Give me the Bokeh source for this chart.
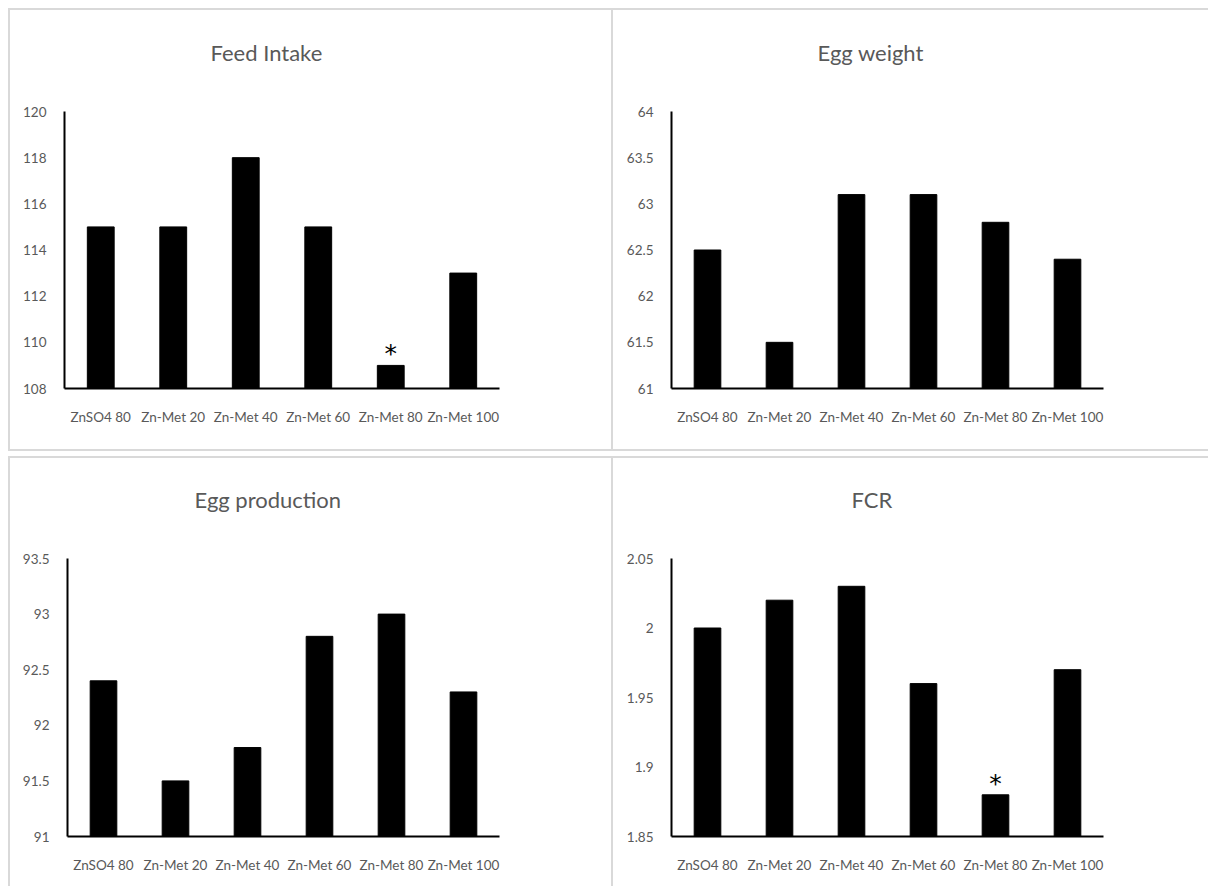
from bokeh.plotting import figure
from bokeh.layouts import column, row
from bokeh.models import Range1d, FixedTicker, CustomJSTickFormatter, ColumnDataSource, Title
from bokeh.embed import file_html
from bokeh.resources import INLINE
from bokeh.core.properties import value

categories = ["ZnSO4 80", "Zn-Met 20", "Zn-Met 40", "Zn-Met 60", "Zn-Met 80", "Zn-Met 100"]

feed_intake = [115, 115, 118, 115, 109, 113]
egg_weight = [62.5, 61.5, 63.1, 63.1, 62.8, 62.4]
egg_production = [92.4, 91.5, 91.8, 92.8, 93.0, 92.3]
fcr = [2.00, 2.02, 2.03, 1.96, 1.88, 1.97]

feed_sig = ["", "", "", "", "*", ""]
egg_weight_sig = ["", "", "", "", "", ""]
egg_production_sig = ["", "", "", "", "", ""]
fcr_sig = ["", "", "", "", "*", ""]

feed_ticks = [108, 110, 112, 114, 116, 118, 120]
egg_weight_ticks = [61, 61.5, 62, 62.5, 63, 63.5, 64]
egg_production_ticks = [91, 91.5, 92, 92.5, 93, 93.5]
fcr_ticks = [1.85, 1.9, 1.95, 2.0, 2.05]

FONT = "Lato"
TXT = "#595959"
BORDER = "2px solid #d9d9d9"


def make_panel(title, vals, sig, ticks, width, height, mb, borders, title_offset):
    left, right, top, bottom = mb
    ymin, ymax = ticks[0], ticks[-1]
    styles = {}
    for side in borders:
        styles["border-" + side] = BORDER
    p = figure(x_range=categories, y_range=Range1d(ymin, ymax),
               width=width, height=height, output_backend="svg",
               toolbar_location=None, min_border_left=left, min_border_right=right,
               min_border_top=top, min_border_bottom=bottom, styles=styles)
    src = ColumnDataSource(dict(x=categories, top=vals, sig=sig))
    p.vbar(x="x", top="top", bottom=ymin, width=0.37, source=src,
           fill_color="black", line_color="black")
    p.text(x="x", y="top", text="sig", source=src, text_align="center",
           text_baseline="bottom", text_font=value("DejaVu Sans"),
           text_font_size="25px", text_color="black", y_offset=3)
    p.xgrid.grid_line_color = None
    p.ygrid.grid_line_color = None
    p.outline_line_color = None
    p.background_fill_color = "white"
    p.border_fill_color = "white"
    for ax in (p.xaxis[0], p.yaxis[0]):
        ax.axis_line_color = "black"
        ax.axis_line_width = 2
        ax.major_tick_line_color = None
        ax.minor_tick_line_color = None
        ax.major_tick_out = 0
        ax.minor_tick_out = 0
        ax.major_label_text_font = FONT
        ax.major_label_text_font_size = "13.5px"
        ax.major_label_text_color = TXT
    p.yaxis.ticker = FixedTicker(ticks=ticks)
    p.yaxis.formatter = CustomJSTickFormatter(code="return parseFloat(tick.toFixed(4)).toString();")
    p.yaxis.major_label_standoff = 18
    p.xaxis.major_label_standoff = 20
    # spacer between title and plot area
    p.add_layout(Title(text=" ", text_font_size="1px", standoff=38), "above")
    p.title.text = title
    p.title.align = "left"
    p.title.offset = title_offset
    p.title.standoff = 10
    p.title.text_font = FONT
    p.title.text_font_size = "22px"
    p.title.text_font_style = "normal"
    p.title.text_color = TXT
    return p


p1 = make_panel("Feed Intake", feed_intake, feed_sig, feed_ticks, 605, 443,
                (54, 116, 101, 65), ["left", "top", "bottom", "right"], 146)
p2 = make_panel("Egg weight", egg_weight, egg_weight_sig, egg_weight_ticks, 595, 443,
                (58, 105, 101, 65), ["top", "bottom"], 146)
p3 = make_panel("Egg production", egg_production, egg_production_sig, egg_production_ticks, 605, 430,
                (57, 116, 100, 52), ["left", "top", "right"], 127)
p4 = make_panel("FCR", fcr, fcr_sig, fcr_ticks, 595, 430,
                (58, 105, 100, 52), ["top"], 180)

layout = column(row(p1, p2, spacing=0), row(p3, p4, spacing=0), spacing=5,
                styles={"margin-left": "8px", "margin-top": "8px"})

with open("out.html", "w") as f:
    f.write(file_html(layout, INLINE))
